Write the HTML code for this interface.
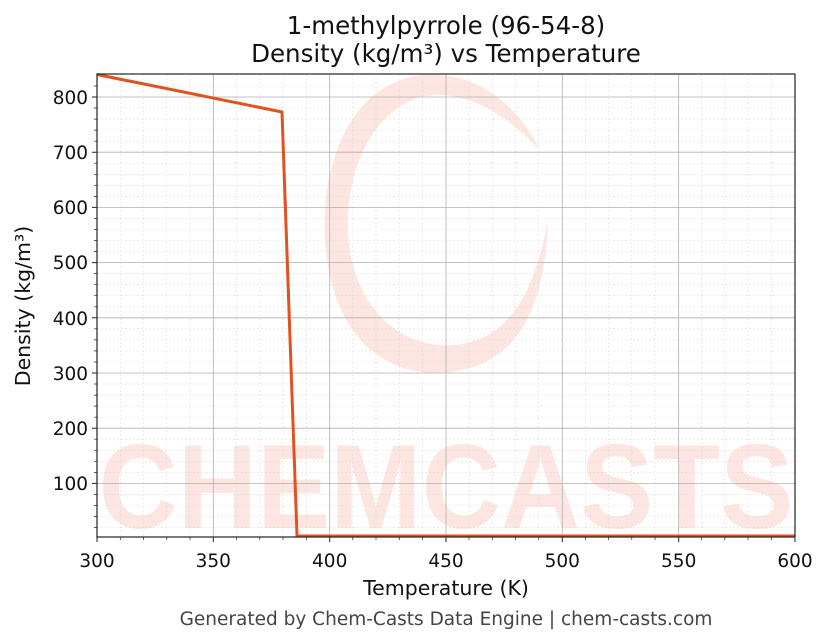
<!DOCTYPE html>
<html><head><meta charset="utf-8"><style>body{margin:0;background:#fff}svg{display:block}text{font-family:"DejaVu Sans","Liberation Sans",sans-serif}</style></head>
<body>
<svg width="830" height="644" viewBox="0 0 830 644" xmlns="http://www.w3.org/2000/svg">
<rect width="830" height="644" fill="#fff"/>
<g fill="#fde5e1">
<path d="M440 75 C360 70 320 150 325 240 C330 330 380 380 450 372 C510 365 545 320 548 220 C535 290 510 340 455 345 C395 350 350 300 348 230 C346 150 390 90 445 95 C490 100 520 130 540 150 C520 110 485 78 440 75Z"/>
<text x="446" y="528" font-size="120" font-weight="bold" text-anchor="middle" textLength="695" lengthAdjust="spacingAndGlyphs" style="font-family:'Liberation Sans',sans-serif">CHEMCASTS</text>
</g>
<g stroke="#ddd" stroke-width="0.6" stroke-dasharray="2,2">
<path d="M120.3 74V537M143.5 74V537M166.8 74V537M190 74V537M236.5 74V537M259.8 74V537M283 74V537M306.3 74V537M352.8 74V537M376 74V537M399.3 74V537M422.5 74V537M469 74V537M492.3 74V537M515.5 74V537M538.8 74V537M585.3 74V537M608.5 74V537M631.8 74V537M655 74V537M701.5 74V537M724.8 74V537M748 74V537M771.3 74V537"/>
<path d="M97 86H795M97 108H795M97 119.1H795M97 130.1H795M97 141.2H795M97 163.2H795M97 174.3H795M97 185.3H795M97 196.4H795M97 218.4H795M97 229.5H795M97 240.5H795M97 251.6H795M97 273.6H795M97 284.7H795M97 295.7H795M97 306.8H795M97 328.8H795M97 339.9H795M97 350.9H795M97 362H795M97 384H795M97 395.1H795M97 406.1H795M97 417.2H795M97 439.2H795M97 450.3H795M97 461.3H795M97 472.4H795M97 494.4H795M97 505.5H795M97 516.5H795M97 527.6H795"/>
</g>
<g stroke="#b0b0b0" stroke-width="0.8">
<path d="M213.3 74V537M329.7 74V537M446 74V537M562.3 74V537M678.7 74V537"/>
<path d="M97 97H795M97 152.2H795M97 207.4H795M97 262.6H795M97 317.8H795M97 373H795M97 428.2H795M97 483.4H795"/>
</g>
<polyline points="97,74.5 282,112 297,536 795,536" fill="none" stroke="#e0531f" stroke-width="3"/>
<rect x="97" y="74" width="698" height="463" fill="none" stroke="#222" stroke-width="1.2"/>
<g stroke="#222" stroke-width="1">
<path d="M97 537v5M213.3 537v5M329.7 537v5M446 537v5M562.3 537v5M678.7 537v5M795 537v5"/>
<path d="M97 97h-5M97 152.2h-5M97 207.4h-5M97 262.6h-5M97 317.8h-5M97 373h-5M97 428.2h-5M97 483.4h-5"/>
</g>
<g stroke="#222" stroke-width="0.7">
<path d="M120.3 537v3M143.5 537v3M166.8 537v3M190 537v3M236.5 537v3M259.8 537v3M283 537v3M306.3 537v3M352.8 537v3M376 537v3M399.3 537v3M422.5 537v3M469 537v3M492.3 537v3M515.5 537v3M538.8 537v3M585.3 537v3M608.5 537v3M631.8 537v3M655 537v3M701.5 537v3M724.8 537v3M748 537v3M771.3 537v3"/>
<path d="M97 86h-3M97 108h-3M97 119.1h-3M97 130.1h-3M97 141.2h-3M97 163.2h-3M97 174.3h-3M97 185.3h-3M97 196.4h-3M97 218.4h-3M97 229.5h-3M97 240.5h-3M97 251.6h-3M97 273.6h-3M97 284.7h-3M97 295.7h-3M97 306.8h-3M97 328.8h-3M97 339.9h-3M97 350.9h-3M97 362h-3M97 384h-3M97 395.1h-3M97 406.1h-3M97 417.2h-3M97 439.2h-3M97 450.3h-3M97 461.3h-3M97 472.4h-3M97 494.4h-3M97 505.5h-3M97 516.5h-3M97 527.6h-3"/>
</g>
<g font-size="18.5" fill="#111" text-anchor="middle">
<text x="97" y="567">300</text><text x="213.3" y="567">350</text><text x="329.7" y="567">400</text><text x="446" y="567">450</text><text x="562.3" y="567">500</text><text x="678.7" y="567">550</text><text x="795" y="567">600</text>
</g>
<g font-size="18.5" fill="#111" text-anchor="end">
<text x="88" y="104">800</text><text x="88" y="159">700</text><text x="88" y="214">600</text><text x="88" y="269">500</text><text x="88" y="325">400</text><text x="88" y="380">300</text><text x="88" y="435">200</text><text x="88" y="490">100</text>
</g>
<text x="446" y="595" font-size="20.5" text-anchor="middle" fill="#111">Temperature (K)</text>
<text transform="translate(30,306) rotate(-90)" font-size="20.5" text-anchor="middle" fill="#111">Density (kg/m³)</text>
<text x="446" y="34" font-size="24.5" text-anchor="middle" fill="#111">1-methylpyrrole (96-54-8)</text>
<text x="446" y="62" font-size="24.5" text-anchor="middle" fill="#111">Density (kg/m³) vs Temperature</text>
<text x="446" y="625" font-size="18.5" text-anchor="middle" fill="#444">Generated by Chem-Casts Data Engine | chem-casts.com</text>
</svg>
</body></html>
